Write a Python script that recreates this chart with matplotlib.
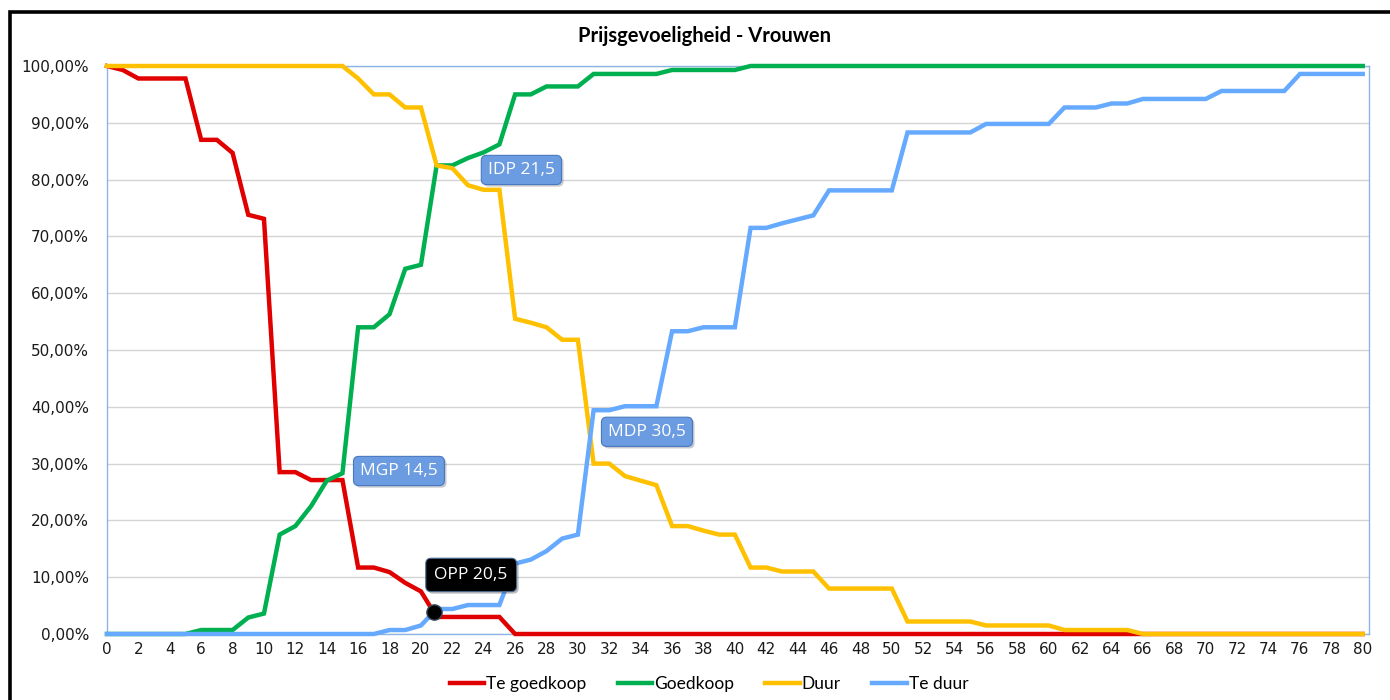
"""
Price sensitivity chart (Van Westendorp) - Vrouwen.
"""

from __future__ import annotations

import matplotlib

matplotlib.use("Agg")

import matplotlib.pyplot as plt
import matplotlib.patheffects as pe
import numpy as np
from matplotlib.patches import Rectangle

# =============================================================================
# DATA
# =============================================================================

PRICES = list(range(0, 81))

TE_GOEDKOOP = [
    100, 99.3, 97.8, 97.8, 97.8, 97.8, 87, 87, 84.7, 73.8,
    73.1, 28.5, 28.5, 27.1, 27.1, 27.1, 11.7, 11.7, 10.9, 9,
    7.5, 3, 3, 3, 3, 3, 0, 0, 0, 0,
] + [0] * 51

GOEDKOOP = [
    0, 0, 0, 0, 0, 0, 0.7, 0.7, 0.7, 2.9,
    3.6, 17.5, 19, 22.5, 27, 28.3, 54, 54, 56.3, 64.3,
    65, 82.5, 82.5, 83.8, 84.8, 86.2, 95, 95, 96.4, 96.4,
    96.4, 98.6, 98.6, 98.6, 98.6, 98.6, 99.3, 99.3, 99.3, 99.3,
    99.3,
] + [100] * 40

DUUR = [
    100, 100, 100, 100, 100, 100, 100, 100, 100, 100,
    100, 100, 100, 100, 100, 100, 97.8, 95, 95, 92.7,
    92.7, 82.5, 82, 79, 78.2, 78.2, 55.5, 54.8, 54, 51.8,
    51.8, 30, 30, 27.8, 27, 26.2, 19, 19, 18.2, 17.5,
    17.5, 11.7, 11.7, 11, 11, 11, 8, 8, 8, 8,
    8, 2.2, 2.2, 2.2, 2.2, 2.2, 1.5, 1.5, 1.5, 1.5,
    1.5, 0.7, 0.7, 0.7, 0.7, 0.7,
] + [0] * 15

TE_DUUR = [0] * 18 + [
    0.7, 0.7, 1.5, 4.4, 4.4, 5.1, 5.1, 5.1, 12.4, 13.1,
    14.6, 16.8, 17.5, 39.4, 39.4, 40.1, 40.1, 40.1, 53.3, 53.3,
    54, 54, 54, 71.5, 71.5, 72.3, 73, 73.7, 78.1, 78.1,
    78.1, 78.1, 78.1, 88.3, 88.3, 88.3, 88.3, 88.3, 89.8, 89.8,
    89.8, 89.8, 89.8, 92.7, 92.7, 92.7, 93.4, 93.4, 94.2, 94.2,
    94.2, 94.2, 94.2, 95.6, 95.6, 95.6, 95.6, 95.6, 98.6, 98.6,
    98.6, 98.6, 98.6,
]

SERIES_NAMES = ["Te goedkoop", "Goedkoop", "Duur", "Te duur"]
SERIES_COLORS = ["#e00000", "#00b050", "#ffc000", "#66aaff"]

Y_TICKS = [0, 10, 20, 30, 40, 50, 60, 70, 80, 90, 100]
X_TICKS = list(range(0, 81, 2))

CALLOUTS = [
    ("IDP 21,5", 26.4, 81.7),
    ("MGP 14,5", 18.6, 28.7),
    ("MDP 30,5", 34.4, 35.6),
]
OPP_LABEL = ("OPP 20,5", 23.2, 10.4)

# =============================================================================
# HELPERS
# =============================================================================


def crossing(x: np.ndarray, a: np.ndarray, b: np.ndarray) -> tuple[float, float]:
    """
    First crossing point of two piecewise linear curves.
    """

    diff = a - b
    for i in range(len(x) - 1):
        if diff[i] > 0 and diff[i + 1] <= 0:
            t = diff[i] / (diff[i] - diff[i + 1])
            xc = x[i] + t * (x[i + 1] - x[i])
            yc = a[i] + t * (a[i + 1] - a[i])
            return xc, yc
    return float(x[0]), float(a[0])


# =============================================================================
# PLOT
# =============================================================================


def main() -> None:
    figure = plt.figure(figsize=(13.9, 7.0), dpi=100)
    axis = figure.add_axes([107 / 1390, 1 - 634 / 700, 1262 / 1390, 568 / 700])

    x = np.array(PRICES, dtype=float)
    series = [TE_GOEDKOOP, GOEDKOOP, DUUR, TE_DUUR]

    for values, name, color in zip(series, SERIES_NAMES, SERIES_COLORS):
        axis.plot(
            x,
            values,
            color=color,
            linewidth=3.2,
            label=name,
            solid_joinstyle="miter",
            clip_on=False,
            zorder=3,
        )

    axis.set_xlim(0, 80.4)
    axis.set_ylim(0, 100)

    axis.set_yticks(Y_TICKS)
    axis.set_yticklabels([f"{v:.2f}%".replace(".", ",") for v in Y_TICKS])
    axis.set_xticks(X_TICKS)
    axis.set_xticklabels([str(v) for v in X_TICKS])
    axis.tick_params(axis="both", length=0, labelsize=11, colors="#1a1a1a")
    axis.tick_params(axis="y", pad=13)
    axis.tick_params(axis="x", pad=6)

    axis.grid(axis="y", color="#d4d4d4", linewidth=1.0)
    axis.set_axisbelow(True)
    for spine in axis.spines.values():
        spine.set_color("#8eb4e3")
        spine.set_linewidth(1.0)

    # optimal price point dot
    opp_x, opp_y = crossing(x, np.array(TE_GOEDKOOP, float), np.array(TE_DUUR, float))
    axis.plot(
        opp_x,
        opp_y,
        marker="o",
        markersize=11,
        color="black",
        markeredgecolor="#3a4a5a",
        zorder=5,
    )

    shadow = [pe.withSimplePatchShadow(offset=(1.5, -1.5), alpha=0.25)]

    for text, cx, cy in CALLOUTS:
        label = axis.text(
            cx,
            cy,
            text,
            ha="center",
            va="center",
            color="white",
            fontsize=12.5,
            family=["Open Sans", "DejaVu Sans"],
            zorder=6,
            bbox=dict(
                boxstyle="round,pad=0.38,rounding_size=0.3",
                facecolor="#6b9be0",
                edgecolor="#4a78c0",
                linewidth=0.8,
            ),
        )
        label.get_bbox_patch().set_path_effects(shadow)

    text, cx, cy = OPP_LABEL
    label = axis.text(
        cx,
        cy,
        text,
        ha="center",
        va="center",
        color="white",
        fontsize=12.5,
        family=["Open Sans", "DejaVu Sans"],
        zorder=6,
        bbox=dict(
            boxstyle="round,pad=0.5,rounding_size=0.3",
            facecolor="black",
            edgecolor="#4a6a90",
            linewidth=0.8,
        ),
    )
    label.get_bbox_patch().set_path_effects(shadow)

    figure.text(
        704 / 1390,
        1 - 36 / 700,
        "Prijsgevoeligheid - Vrouwen",
        ha="center",
        va="center",
        fontsize=14.5,
        fontweight="bold",
        family=["Lato", "DejaVu Sans"],
    )

    figure.legend(
        loc="center",
        bbox_to_anchor=(709 / 1390, 1 - 684 / 700),
        ncol=4,
        frameon=False,
        handlelength=2.0,
        handletextpad=0.1,
        columnspacing=1.8,
        prop={"family": ["Lato", "DejaVu Sans"], "size": 12.5},
    )

    # outer chart frame (clipped by the image edge)
    figure.add_artist(
        Rectangle(
            (10 / 1390, -0.2),
            1.2,
            1.2 - 12 / 700,
            transform=figure.transFigure,
            fill=False,
            edgecolor="black",
            linewidth=2.6,
        )
    )

    figure.savefig("out.png", dpi=100, facecolor="white")
    plt.close(figure)


if __name__ == "__main__":
    main()
